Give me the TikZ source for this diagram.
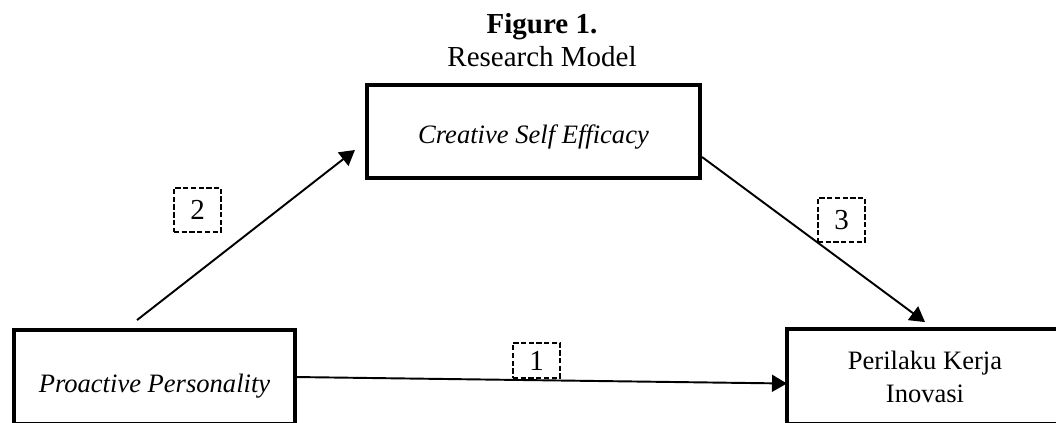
\documentclass[tikz,border=0pt]{standalone}
\usepackage{fontspec}
\setmainfont{Liberation Serif}
\usetikzlibrary{arrows.meta,
                calc}

\begin{document}
\begin{tikzpicture}[x=0.414pt, y=-0.414pt,
                box/.style={draw, line width=1.86pt, rectangle, inner sep=0pt, outer sep=0pt, minimum height=38.5pt, font=\fontsize{11}{13.7}\selectfont},
                num/.style={draw, line width=0.8pt, dash pattern=on 2.2pt off 1pt, inner sep=0pt, outer sep=0pt, minimum width=19.5pt, minimum height=18.2pt, font=\fontsize{12}{14}\selectfont},
                link/.style={line width=0.8pt, -{Triangle[length=6.2pt, width=7pt]}}]
                \useasboundingbox (0,0) rectangle (1056,422);
                \node [anchor=base, font=\fontsize{12}{14}\selectfont\bfseries] (fig) at (542,33) {Figure 1.};
                \node [anchor=base, font=\fontsize{12}{14}\selectfont] (rm) at (542,66) {Research Model};
                \node [box, minimum width=137.9pt, text height=12.5pt, text depth=2.4pt] (cse) at (533.5,131.5) {\textit{Creative Self Efficacy}};
                \node [box, minimum width=116.3pt, minimum height=38.9pt, text height=14.9pt, text depth=2.4pt] (pp) at (154.5,377) {\textit{Proactive Personality}};
                \node [box, minimum width=114.3pt, minimum height=39.3pt, align=center] (pki) at (925,376.5) {Perilaku Kerja\\Inovasi};
                \node [num] (n2) at (197.5,210) {2};
                \node [num] (n3) at (841.5,220) {3};
                \node [num, minimum height=14.5pt] (n1) at (536.5,360.5) {1};
                \draw [link] (pp.east) -- ($(pki.west)+(0,7)$);
                \draw [link] ($(pp.north west)+(123,-10)$) -- ($(cse.south west)+(-12,-28)$);
                \draw [link] ($(cse.south east)+(2,-21)$) -- ($(pki.north)+(0,-7)$);
            \end{tikzpicture}
\end{document}
